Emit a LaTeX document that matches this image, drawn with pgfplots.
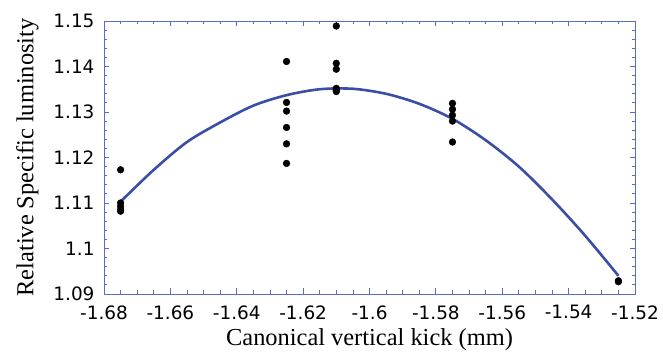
\documentclass[border=0pt]{standalone}
\usepackage{fontspec}
\setmainfont{Liberation Serif}
\newfontfamily\tickfont{DejaVu Sans}
\usepackage{pgfplots}
\pgfplotsset{compat=1.18}
\definecolor{axblue}{HTML}{5B6CC4}
\definecolor{curveblue}{HTML}{3A4EA6}
\begin{document}
\begin{tikzpicture}
\begin{axis}[
  scale only axis,
  width=531bp, height=273bp,
  xmin=-1.68, xmax=-1.52,
  ymin=1.09, ymax=1.15,
  xtick={-1.68,-1.66,...,-1.52},
  ytick={1.09,1.10,...,1.15},
  minor x tick num=3,
  minor y tick num=4,
  tick align=inside,
  major tick length=5.5bp,
  minor tick length=3.5bp,
  axis line style={axblue, line width=0.9bp},
  every tick/.style={axblue, line width=0.8bp},
  /pgf/number format/assume math mode=true,
  /pgf/number format/fixed,
  /pgf/number format/precision=2,
  tick label style={font=\tickfont\fontsize{18.5}{20}\selectfont},
  xticklabel style={yshift=-8bp},
  yticklabel style={xshift=-6bp},
  label style={font=\fontsize{24.5}{26}\selectfont},
  xlabel={Canonical vertical kick (mm)},
  ylabel={Relative Specific luminosity},
  xlabel style={yshift=-2bp},
  ylabel style={yshift=8bp},
  clip=false,
]
\addplot[curveblue, line width=2.6bp, smooth] coordinates {
(-1.675,1.1103) (-1.665,1.1173) (-1.655,1.1234) (-1.645,1.1277)
(-1.635,1.1314) (-1.625,1.1337) (-1.615,1.1350) (-1.605,1.1351)
(-1.595,1.1340) (-1.585,1.1318) (-1.575,1.1285) (-1.565,1.1238)
(-1.555,1.1180) (-1.545,1.1108) (-1.535,1.1028) (-1.525,1.0940)
};
\addplot[only marks, mark=*, mark size=3.4bp, black] coordinates {
(-1.675,1.1173) (-1.675,1.1100) (-1.675,1.1092) (-1.675,1.1085) (-1.675,1.1082)
(-1.625,1.1411) (-1.625,1.1321) (-1.625,1.1302) (-1.625,1.1266) (-1.625,1.1230) (-1.625,1.1187)
(-1.610,1.1489) (-1.610,1.1407) (-1.610,1.1394) (-1.610,1.1352) (-1.610,1.1348) (-1.610,1.1345)
(-1.575,1.1319) (-1.575,1.1306) (-1.575,1.1293) (-1.575,1.1280) (-1.575,1.1234)
(-1.525,1.0927) (-1.525,1.0929)
};
\coordinate (bl) at (rel axis cs:0,0);
\coordinate (tr) at (rel axis cs:1,1);
\end{axis}
\pgfresetboundingbox
\path ([shift={(-104bp,-58bp)}]bl) rectangle ([shift={(28bp,21bp)}]tr);
\end{tikzpicture}
\end{document}
